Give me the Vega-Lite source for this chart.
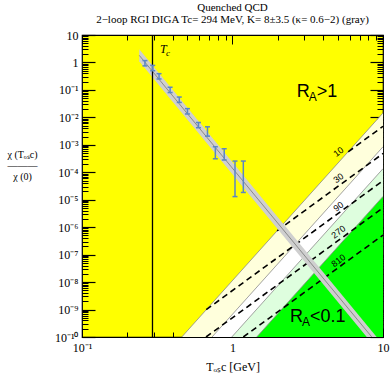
{
  "$schema": "https://vega.github.io/schema/vega-lite/v6.json",
  "width": 301,
  "height": 302,
  "autosize": {"type": "none"},
  "padding": {"left": 82, "top": 35, "right": 7, "bottom": 42},
  "title": {
    "text": ["Quenched QCD", "2−loop RGI DIGA Tc= 294 MeV, K= 8±3.5 (κ= 0.6−2) (gray)"],
    "font": "Liberation Serif", "fontSize": 11, "fontWeight": "normal", "lineHeight": 12,
    "anchor": "middle", "offset": 4, "color": "#000"
  },
  "config": {
    "view": {"fill": "#ffff00", "stroke": "#000", "strokeWidth": 1.2},
    "axis": {"grid": false, "domain": false, "labelFont": "Liberation Serif", "labelFontSize": 12, "labelColor": "#000",
             "titleFont": "Liberation Serif", "titleFontWeight": "normal", "titleColor": "#000", "tickColor": "#000",
             "labelFlush": false, "labelOverlap": false, "labelBound": false}
  },
  "datasets": {
    "regions": [
      {"b": "B1", "x": 0.46, "y": 1e-10}, {"b": "B1", "x": 10, "y": 0.0145},
      {"b": "B2", "x": 0.731, "y": 1e-10}, {"b": "B2", "x": 10, "y": 0.00085},
      {"b": "B3", "x": 0.989, "y": 1e-10}, {"b": "B3", "x": 10, "y": 0.000135},
      {"b": "B4", "x": 1.449, "y": 1e-10}, {"b": "B4", "x": 10, "y": 0.0000132}
    ],
    "dashed": [
      {"f": "810", "x": 1.18, "y": 1e-10}, {"f": "810", "x": 10, "y": 5.16e-7},
      {"f": "270", "x": 0.667, "y": 1e-10}, {"f": "270", "x": 10, "y": 5.05e-6},
      {"f": "90", "x": 0.669, "y": 9.9e-10}, {"f": "90", "x": 10, "y": 4.93e-5},
      {"f": "30", "x": 1.98, "y": 7.4e-7}, {"f": "30", "x": 10, "y": 4.82e-4},
      {"f": "10", "x": 5.87, "y": 5.58e-4}, {"f": "10", "x": 10, "y": 4.71e-3}
    ],
    "dlabels": [
      {"t": "10", "x": 5.06, "y": 5.5e-4}, {"t": "30", "x": 5.06, "y": 6.1e-5},
      {"t": "90", "x": 5.06, "y": 5.6e-6}, {"t": "270", "x": 5.06, "y": 6.7e-7},
      {"t": "810", "x": 5.06, "y": 6.1e-8}
    ],
    "band": [
      {"x": 0.24, "lo": 1.1, "hi": 3.0, "c": 1.82},
      {"x": 9.5, "lo": 2.7e-11, "hi": 7.4e-11, "c": 4.5e-11}
    ],
    "points": [
      {"x": 0.262, "lo": 0.75, "hi": 1.17},
      {"x": 0.295, "lo": 0.5, "hi": 0.78},
      {"x": 0.325, "lo": 0.25, "hi": 0.39},
      {"x": 0.385, "lo": 0.08, "hi": 0.125},
      {"x": 0.443, "lo": 0.035, "hi": 0.055},
      {"x": 0.502, "lo": 0.0133, "hi": 0.0208},
      {"x": 0.594, "lo": 0.0042, "hi": 0.0065},
      {"x": 0.682, "lo": 0.00207, "hi": 0.00453},
      {"x": 0.769, "lo": 0.00031, "hi": 0.00085},
      {"x": 0.881, "lo": 0.00028, "hi": 0.00072},
      {"x": 1.039, "lo": 0.000013, "hi": 0.000256},
      {"x": 1.18, "lo": 0.0000184, "hi": 0.000256}
    ],
    "tc": [{"x": 0.294, "y": 2.2, "lx": 0.33, "a": "T", "b": "c"}],
    "ann": [
      {"x": 2.67, "y": 0.057, "r": "R", "s": "A", "t": ">1"},
      {"x": 2.41, "y": 3.4e-10, "r": "R", "s": "A", "t": "<0.1"}
    ]
  },
  "resolve": {"axis": {"x": "independent", "y": "independent"}},
  "layer": [
    {
      "data": {"name": "regions"},
      "transform": [{"filter": "datum.b == 'B1'"}],
      "mark": {"type": "area", "color": "#ffffdc", "clip": true},
      "encoding": {
        "x": {"field": "x", "type": "quantitative", "scale": {"type": "log", "domain": [0.1, 10], "nice": false},
              "axis": {"orient": "bottom", "values": [0.1, 1, 10], "ticks": false, "labelPadding": 5,
                       "labelExpr": "datum.value < 0.5 ? '10⁻¹' : datum.value < 5 ? '1' : '10'",
                       "title": "Tₒₛc [GeV]", "titleFontSize": 12, "titlePadding": 8}},
        "y": {"field": "y", "type": "quantitative", "scale": {"type": "log", "domain": [1e-10, 10], "nice": false},
              "axis": {"orient": "left", "values": [1e-10, 1e-9, 1e-8, 1e-7, 1e-6, 1e-5, 1e-4, 1e-3, 1e-2, 1e-1, 1, 10],
                       "ticks": false, "labelPadding": 4,
                       "labelExpr": "datum.value >= 5 ? '10' : datum.value >= 0.5 ? '1' : '10⁻' + ['','¹','²','³','⁴','⁵','⁶','⁷','⁸','⁹','¹⁰'][round(-log(datum.value)/LN10)]",
                       "title": ["χ (Tₒₛc)", "―――", "χ (0)"], "titleAngle": 0, "titleAlign": "center", "titleBaseline": "alphabetic",
                       "titleX": -60, "titleY": 122, "titleFontSize": 10, "titleLineHeight": 11}},
        "y2": {"datum": 1e-10}
      }
    },
    {
      "data": {"name": "regions"},
      "transform": [{"filter": "datum.b == 'B2'"}],
      "mark": {"type": "area", "color": "#ffffff", "clip": true},
      "encoding": {
        "x": {"field": "x", "type": "quantitative", "scale": {"type": "log", "domain": [0.1, 10], "nice": false},
              "axis": {"orient": "bottom", "values": [0.1, 1, 10], "labels": false, "tickSize": -9, "tickWidth": 1, "title": null}},
        "y": {"field": "y", "type": "quantitative", "scale": {"type": "log", "domain": [1e-10, 10], "nice": false},
              "axis": {"orient": "left", "values": [1e-10, 1e-9, 1e-8, 1e-7, 1e-6, 1e-5, 1e-4, 1e-3, 1e-2, 1e-1, 1, 10],
                       "labels": false, "tickSize": -13, "tickWidth": 1.2, "title": null}},
        "y2": {"datum": 1e-10}
      }
    },
    {
      "data": {"name": "regions"},
      "transform": [{"filter": "datum.b == 'B3'"}],
      "mark": {"type": "area", "color": "#defede", "clip": true},
      "encoding": {
        "x": {"field": "x", "type": "quantitative", "scale": {"type": "log", "domain": [0.1, 10], "nice": false},
              "axis": {"orient": "bottom", "values": [0.2, 0.3, 0.4, 0.5, 0.6, 0.7, 0.8, 0.9, 2, 3, 4, 5, 6, 7, 8, 9], "labels": false, "tickSize": -5, "tickWidth": 1, "title": null}},
        "y": {"field": "y", "type": "quantitative", "scale": {"type": "log", "domain": [1e-10, 10], "nice": false},
              "axis": {"orient": "left", "values": [2e-10,3e-10,4e-10,5e-10,6e-10,7e-10,8e-10,9e-10,2e-9,3e-9,4e-9,5e-9,6e-9,7e-9,8e-9,9e-9,2e-8,3e-8,4e-8,5e-8,6e-8,7e-8,8e-8,9e-8,2e-7,3e-7,4e-7,5e-7,6e-7,7e-7,8e-7,9e-7,2e-6,3e-6,4e-6,5e-6,6e-6,7e-6,8e-6,9e-6,2e-5,3e-5,4e-5,5e-5,6e-5,7e-5,8e-5,9e-5,2e-4,3e-4,4e-4,5e-4,6e-4,7e-4,8e-4,9e-4,2e-3,3e-3,4e-3,5e-3,6e-3,7e-3,8e-3,9e-3,0.02,0.03,0.04,0.05,0.06,0.07,0.08,0.09,0.2,0.3,0.4,0.5,0.6,0.7,0.8,0.9,2,3,4,5,6,7,8,9],
                       "labels": false, "tickSize": -6, "tickWidth": 1, "title": null}},
        "y2": {"datum": 1e-10}
      }
    },
    {
      "data": {"name": "regions"},
      "transform": [{"filter": "datum.b == 'B4'"}],
      "mark": {"type": "area", "color": "#00ff00", "clip": true},
      "encoding": {
        "x": {"field": "x", "type": "quantitative", "scale": {"type": "log", "domain": [0.1, 10], "nice": false},
              "axis": {"orient": "top", "values": [0.1, 1, 10], "labels": false, "tickSize": -9, "tickWidth": 1, "title": null}},
        "y": {"field": "y", "type": "quantitative", "scale": {"type": "log", "domain": [1e-10, 10], "nice": false},
              "axis": {"orient": "right", "values": [1e-10, 1e-9, 1e-8, 1e-7, 1e-6, 1e-5, 1e-4, 1e-3, 1e-2, 1e-1, 1, 10],
                       "labels": false, "tickSize": -13, "tickWidth": 1.2, "title": null}},
        "y2": {"datum": 1e-10}
      }
    },
    {
      "data": {"name": "regions"},
      "mark": {"type": "line", "color": "#8a8a8a", "strokeWidth": 0.8, "clip": true},
      "encoding": {
        "detail": {"field": "b"},
        "x": {"field": "x", "type": "quantitative", "scale": {"type": "log", "domain": [0.1, 10], "nice": false},
              "axis": {"orient": "top", "values": [0.2, 0.3, 0.4, 0.5, 0.6, 0.7, 0.8, 0.9, 2, 3, 4, 5, 6, 7, 8, 9], "labels": false, "tickSize": -5, "tickWidth": 1, "title": null}},
        "y": {"field": "y", "type": "quantitative", "scale": {"type": "log", "domain": [1e-10, 10], "nice": false},
              "axis": {"orient": "right", "values": [2e-10,3e-10,4e-10,5e-10,6e-10,7e-10,8e-10,9e-10,2e-9,3e-9,4e-9,5e-9,6e-9,7e-9,8e-9,9e-9,2e-8,3e-8,4e-8,5e-8,6e-8,7e-8,8e-8,9e-8,2e-7,3e-7,4e-7,5e-7,6e-7,7e-7,8e-7,9e-7,2e-6,3e-6,4e-6,5e-6,6e-6,7e-6,8e-6,9e-6,2e-5,3e-5,4e-5,5e-5,6e-5,7e-5,8e-5,9e-5,2e-4,3e-4,4e-4,5e-4,6e-4,7e-4,8e-4,9e-4,2e-3,3e-3,4e-3,5e-3,6e-3,7e-3,8e-3,9e-3,0.02,0.03,0.04,0.05,0.06,0.07,0.08,0.09,0.2,0.3,0.4,0.5,0.6,0.7,0.8,0.9,2,3,4,5,6,7,8,9],
                       "labels": false, "tickSize": -6, "tickWidth": 1, "title": null}}
      }
    },
    {
      "data": {"name": "dashed"},
      "mark": {"type": "line", "color": "#000", "strokeWidth": 1.6, "strokeDash": [6, 4], "clip": true},
      "encoding": {
        "detail": {"field": "f"},
        "x": {"field": "x", "type": "quantitative", "scale": {"type": "log", "domain": [0.1, 10], "nice": false}, "axis": null},
        "y": {"field": "y", "type": "quantitative", "scale": {"type": "log", "domain": [1e-10, 10], "nice": false}, "axis": null}
      }
    },
    {
      "data": {"name": "dlabels"},
      "mark": {"type": "text", "font": "Liberation Sans", "fontSize": 9, "angle": -37, "color": "#000", "align": "center", "baseline": "middle"},
      "encoding": {
        "text": {"field": "t"},
        "x": {"field": "x", "type": "quantitative", "scale": {"type": "log", "domain": [0.1, 10], "nice": false}, "axis": null},
        "y": {"field": "y", "type": "quantitative", "scale": {"type": "log", "domain": [1e-10, 10], "nice": false}, "axis": null}
      }
    },
    {
      "data": {"name": "band"},
      "mark": {"type": "area", "color": "#cfcfcf", "clip": true},
      "encoding": {
        "x": {"field": "x", "type": "quantitative", "scale": {"type": "log", "domain": [0.1, 10], "nice": false}, "axis": null},
        "y": {"field": "lo", "type": "quantitative", "scale": {"type": "log", "domain": [1e-10, 10], "nice": false}, "axis": null},
        "y2": {"field": "hi"}
      }
    },
    {
      "data": {"name": "band"},
      "mark": {"type": "line", "color": "#777777", "strokeWidth": 0.8, "clip": true},
      "encoding": {
        "x": {"field": "x", "type": "quantitative", "scale": {"type": "log", "domain": [0.1, 10], "nice": false}, "axis": null},
        "y": {"field": "c", "type": "quantitative", "scale": {"type": "log", "domain": [1e-10, 10], "nice": false}, "axis": null}
      }
    },
    {
      "data": {"name": "tc"},
      "mark": {"type": "rule", "color": "#000", "strokeWidth": 1.3},
      "encoding": {
        "x": {"field": "x", "type": "quantitative", "scale": {"type": "log", "domain": [0.1, 10], "nice": false}, "axis": null}
      }
    },
    {
      "data": {"name": "tc"},
      "mark": {"type": "text", "font": "Liberation Serif", "fontStyle": "italic", "fontSize": 12, "align": "left", "baseline": "alphabetic", "color": "#000"},
      "encoding": {
        "text": {"field": "a"},
        "x": {"field": "lx", "type": "quantitative", "scale": {"type": "log", "domain": [0.1, 10], "nice": false}, "axis": null},
        "y": {"field": "y", "type": "quantitative", "scale": {"type": "log", "domain": [1e-10, 10], "nice": false}, "axis": null}
      }
    },
    {
      "data": {"name": "tc"},
      "mark": {"type": "text", "font": "Liberation Serif", "fontStyle": "italic", "fontSize": 9, "align": "left", "baseline": "alphabetic", "dx": 6, "dy": 3, "color": "#000"},
      "encoding": {
        "text": {"field": "b"},
        "x": {"field": "lx", "type": "quantitative", "scale": {"type": "log", "domain": [0.1, 10], "nice": false}, "axis": null},
        "y": {"field": "y", "type": "quantitative", "scale": {"type": "log", "domain": [1e-10, 10], "nice": false}, "axis": null}
      }
    },
    {
      "data": {"name": "points"},
      "mark": {"type": "rule", "color": "#5a86c4", "strokeWidth": 1.5},
      "encoding": {
        "x": {"field": "x", "type": "quantitative", "scale": {"type": "log", "domain": [0.1, 10], "nice": false}, "axis": null},
        "y": {"field": "lo", "type": "quantitative", "scale": {"type": "log", "domain": [1e-10, 10], "nice": false}, "axis": null},
        "y2": {"field": "hi"}
      }
    },
    {
      "data": {"name": "points"},
      "mark": {"type": "tick", "orient": "horizontal", "color": "#5a86c4", "size": 5, "thickness": 1.5, "opacity": 1},
      "encoding": {
        "x": {"field": "x", "type": "quantitative", "scale": {"type": "log", "domain": [0.1, 10], "nice": false}, "axis": null},
        "y": {"field": "lo", "type": "quantitative", "scale": {"type": "log", "domain": [1e-10, 10], "nice": false}, "axis": null}
      }
    },
    {
      "data": {"name": "points"},
      "mark": {"type": "tick", "orient": "horizontal", "color": "#5a86c4", "size": 5, "thickness": 1.5, "opacity": 1},
      "encoding": {
        "x": {"field": "x", "type": "quantitative", "scale": {"type": "log", "domain": [0.1, 10], "nice": false}, "axis": null},
        "y": {"field": "hi", "type": "quantitative", "scale": {"type": "log", "domain": [1e-10, 10], "nice": false}, "axis": null}
      }
    },
    {
      "data": {"name": "ann"},
      "mark": {"type": "text", "font": "Liberation Sans", "fontSize": 18, "align": "left", "baseline": "alphabetic", "color": "#000"},
      "encoding": {
        "text": {"field": "r"},
        "x": {"field": "x", "type": "quantitative", "scale": {"type": "log", "domain": [0.1, 10], "nice": false}, "axis": null},
        "y": {"field": "y", "type": "quantitative", "scale": {"type": "log", "domain": [1e-10, 10], "nice": false}, "axis": null}
      }
    },
    {
      "data": {"name": "ann"},
      "mark": {"type": "text", "font": "Liberation Sans", "fontSize": 12, "align": "left", "baseline": "alphabetic", "dx": 12, "dy": 4, "color": "#000"},
      "encoding": {
        "text": {"field": "s"},
        "x": {"field": "x", "type": "quantitative", "scale": {"type": "log", "domain": [0.1, 10], "nice": false}, "axis": null},
        "y": {"field": "y", "type": "quantitative", "scale": {"type": "log", "domain": [1e-10, 10], "nice": false}, "axis": null}
      }
    },
    {
      "data": {"name": "ann"},
      "mark": {"type": "text", "font": "Liberation Sans", "fontSize": 18, "align": "left", "baseline": "alphabetic", "dx": 20, "color": "#000"},
      "encoding": {
        "text": {"field": "t"},
        "x": {"field": "x", "type": "quantitative", "scale": {"type": "log", "domain": [0.1, 10], "nice": false}, "axis": null},
        "y": {"field": "y", "type": "quantitative", "scale": {"type": "log", "domain": [1e-10, 10], "nice": false}, "axis": null}
      }
    }
  ]
}
